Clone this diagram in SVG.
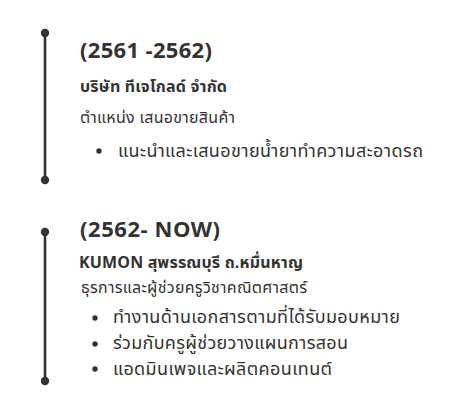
<svg xmlns="http://www.w3.org/2000/svg" width="450" height="413" viewBox="0 0 450 413">
<style>
text{font-family:"Noto Sans Thai","Noto Sans",sans-serif;fill:#333}
.h{font-weight:700;font-size:22px}
.co{font-weight:700;font-size:16px}
.ro{font-size:16px}
.it{font-size:18px}
.ln{stroke:#333;stroke-width:2.6}
.dot{fill:#333}
</style>
<rect width="450" height="413" fill="#fff"/>
<g id="connectors">
<line class="ln" x1="45" y1="33" x2="45" y2="180"/>
<line class="ln" x1="45" y1="232" x2="45" y2="381"/>
</g>
<g id="job1">
<circle class="dot" cx="45" cy="33" r="4.2"/>
<circle class="dot" cx="45" cy="180" r="4.2"/>
<text class="h" x="80" y="58" textLength="132" lengthAdjust="spacing">(2561 -2562)</text>
<text class="co" x="80" y="92" textLength="147" lengthAdjust="spacing">บริษัท ทีเจโกลด์ จำกัด</text>
<text class="ro" x="80" y="123" textLength="155" lengthAdjust="spacing">ตำแหน่ง เสนอขายสินค้า</text>
<circle class="dot" cx="99" cy="151" r="2.7"/>
<text class="it" x="118" y="157" textLength="305" lengthAdjust="spacing">แนะนำและเสนอขายน้ำยาทำความสะอาดรถ</text>
</g>
<g id="job2">
<circle class="dot" cx="45" cy="232" r="4.2"/>
<circle class="dot" cx="45" cy="381" r="4.2"/>
<text class="h" x="80" y="237" textLength="140" lengthAdjust="spacing">(2562- NOW)</text>
<text class="co" x="79" y="268" textLength="224" lengthAdjust="spacing">KUMON สุพรรณบุรี ถ.หมื่นหาญ</text>
<text class="ro" x="81" y="293" textLength="226" lengthAdjust="spacing">ธุรการและผู้ช่วยครูวิชาคณิตศาสตร์</text>
<circle class="dot" cx="95" cy="318" r="2.7"/>
<text class="it" x="113" y="323" textLength="287" lengthAdjust="spacing">ทำงานด้านเอกสารตามที่ได้รับมอบหมาย</text>
<circle class="dot" cx="95" cy="344" r="2.7"/>
<text class="it" x="113" y="349" textLength="235" lengthAdjust="spacing">ร่วมกับครูผู้ช่วยวางแผนการสอน</text>
<circle class="dot" cx="95" cy="369" r="2.7"/>
<text class="it" x="113" y="375" textLength="219" lengthAdjust="spacing">แอดมินเพจและผลิตคอนเทนต์</text>
</g>
</svg>
